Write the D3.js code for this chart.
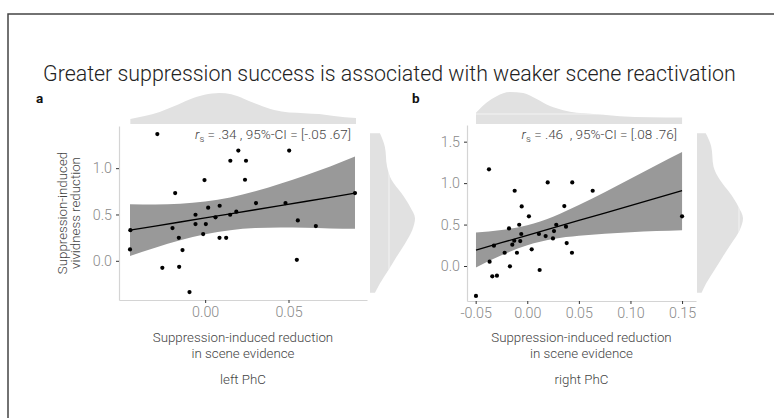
<!DOCTYPE html>
<html lang="en">
<head>
<meta charset="utf-8">
<title>Suppression success and scene reactivation</title>
<script src="https://cdnjs.cloudflare.com/ajax/libs/d3/7.8.5/d3.min.js"></script>
<style>
  body { margin: 0; background: #fff; }
  svg text { font-family: Roboto, "Noto Sans", sans-serif; }
</style>
</head>
<body>
<div id="chart"></div>
<script>
    // ---- data ----
    // left PhC: x = scene evidence reduction, y = vividness reduction
    var leftX = [-0.0287, 0.0199, 0.0504, 0.0151, 0.0245, -0.0004, 0.0239, -0.018, 0.0305, 0.0482, 0.0899,
        0.0087, 0.0018, -0.0058, 0.015, 0.0187, 0.0062, 0.0556, -0.0196, -0.0058, 0.0004, 0.0664, -0.0449,
        -0.0158, -0.0012, 0.0086, 0.0126, -0.0451, -0.0136, -0.0257, -0.0156, 0.055, -0.0094];
    var leftY = [1.368, 1.19, 1.19, 1.08, 1.08, 0.871, 0.875, 0.731, 0.623, 0.623, 0.731,
        0.594, 0.573, 0.497, 0.497, 0.53, 0.469, 0.436, 0.353, 0.397, 0.397, 0.375, 0.331,
        0.248, 0.288, 0.248, 0.248, 0.123, 0.116, -0.076, -0.065, 0.011, -0.338];

    // right PhC
    var rightX = [-0.0371, -0.0122, 0.0198, 0.0436, 0.0634, -0.0054, 0.0016, 0.0359, 0.150, -0.0177, -0.0078,
        0.0281, 0.0375, -0.0058, 0.0113, 0.0178, 0.0259, 0.0249, -0.0323, -0.0145, -0.0126, -0.0068,
        -0.0219, -0.01, 0.0043, 0.0382, 0.0433, -0.0365, -0.0168, -0.0339, -0.0294, 0.012, -0.0497];
    var rightY = [1.166, 0.908, 1.008, 1.008, 0.908, 0.719, 0.599, 0.723, 0.599, 0.454, 0.498,
        0.498, 0.474, 0.386, 0.386, 0.361, 0.422, 0.333, 0.245, 0.257, 0.305, 0.301,
        0.160, 0.160, 0.201, 0.277, 0.160, 0.052, -0.004, -0.124, -0.117, -0.048, -0.361];

    // linear fit + 95% band, sampled along x
    var leftFitX = [-0.0451, -0.03, -0.015, 0, 0.015, 0.03, 0.045, 0.06, 0.075, 0.0899];
    var leftFit = [0.331, 0.375, 0.419, 0.463, 0.507, 0.551, 0.596, 0.640, 0.684, 0.731];
    var leftLo = [0.052, 0.142, 0.223, 0.288, 0.331, 0.353, 0.360, 0.358, 0.350, 0.345];
    var leftHi = [0.610, 0.608, 0.615, 0.639, 0.684, 0.750, 0.831, 0.922, 1.018, 1.125];

    var rightFitX = [-0.0497, -0.025, 0, 0.025, 0.05, 0.075, 0.1, 0.125, 0.150];
    var rightFit = [0.193, 0.281, 0.371, 0.460, 0.550, 0.639, 0.729, 0.818, 0.908];
    var rightLo = [-0.017, 0.129, 0.250, 0.325, 0.364, 0.388, 0.406, 0.421, 0.432];
    var rightHi = [0.403, 0.434, 0.492, 0.595, 0.736, 0.890, 1.052, 1.215, 1.375];

    // marginal densities (relative height)
    var leftTopX = [-0.0449, -0.0363, -0.0273, -0.0184, -0.0094, -0.0004, 0.0086, 0.0157, 0.0235, 0.0325,
        0.0414, 0.0504, 0.0594, 0.0684, 0.0773, 0.0905];
    var leftTopD = [0.16, 0.26, 0.39, 0.58, 0.79, 0.94, 1.0, 0.96, 0.81, 0.61, 0.45, 0.37, 0.35, 0.32, 0.26, 0.19];
    var rightTopX = [-0.0497, -0.0393, -0.0297, -0.0168, -0.0039, 0.0091, 0.022, 0.0349, 0.0479, 0.0608,
        0.0736, 0.0898, 0.119, 0.150];
    var rightTopD = [0.35, 0.67, 0.87, 1.0, 0.97, 0.78, 0.56, 0.43, 0.35, 0.32, 0.29, 0.24, 0.21, 0.2];

    var leftSideY = [1.376, 1.231, 1.015, 0.871, 0.728, 0.583, 0.458, 0.332, 0.188, 0.043, -0.1, -0.244, -0.346];
    var leftSideD = [0.22, 0.33, 0.38, 0.48, 0.70, 0.89, 1.0, 0.94, 0.78, 0.59, 0.41, 0.22, 0.11];
    var rightSideY = [1.601, 1.439, 1.198, 1.037, 0.877, 0.715, 0.575, 0.434, 0.274, 0.112, -0.048, -0.209, -0.322];
    var rightSideD = [0.19, 0.31, 0.36, 0.50, 0.72, 0.90, 1.0, 0.93, 0.75, 0.56, 0.38, 0.2, 0.1];

    var leftXTicks = [0, 0.05];
    var leftYTicks = [0, 0.5, 1.0];
    var rightXTicks = [-0.05, 0, 0.05, 0.10, 0.15];
    var rightYTicks = [0, 0.5, 1.0, 1.5];

    var titleText = "Greater suppression success is associated with weaker scene reactivation";

    // ---- layout ----
    var width = 774, height = 418;

    var panels = [
        {
            label: "a", labelX: 36, footer: "left PhC",
            xs: leftX, ys: leftY,
            fitX: leftFitX, fit: leftFit, lo: leftLo, hi: leftHi,
            topX: leftTopX, topD: leftTopD, sideY: leftSideY, sideD: leftSideD,
            xTicks: leftXTicks, yTicks: leftYTicks,
            xDomain: [-0.0517, 0.0971], xRange: [119, 367],
            yDomain: [-0.423, 1.455], yRange: [300, 126],
            stat: ".34 , 95%-CI = [-.05 .67]", statX: 351,
            topBase: 124, topH: 31, sideBase: 370, sideW: 45,
            topSeam: null, sideSeam: 19,
            yTitle: true
        },
        {
            label: "b", labelX: 412, footer: "right PhC",
            xs: rightX, ys: rightY,
            fitX: rightFitX, fit: rightFit, lo: rightLo, hi: rightHi,
            topX: rightTopX, topD: rightTopD, sideY: rightSideY, sideD: rightSideD,
            xTicks: rightXTicks, yTicks: rightYTicks,
            xDomain: [-0.0584, 0.1635], xRange: [467, 696],
            yDomain: [-0.422, 1.701], yRange: [301, 125],
            stat: ".46  , 95%-CI = [.08 .76]", statX: 677,
            topBase: 124, topH: 32, sideBase: 697, sideW: 46,
            topSeam: 10, sideSeam: 42,
            yTitle: false
        }
    ];

    var svg = d3.select("#chart").append("svg")
        .attr("width", width)
        .attr("height", height);

    var defs = svg.append("defs");

    // outer frame
    svg.append("rect")
        .attr("x", 8).attr("y", 14)
        .attr("width", width + 20).attr("height", height + 20)
        .attr("fill", "none")
        .attr("stroke", "#444")
        .attr("stroke-width", 1.5);

    svg.append("text")
        .attr("x", 43).attr("y", 81)
        .attr("font-size", 21.4)
        .attr("font-weight", 300)
        .attr("fill", "#222")
        .text(titleText);

    panels.forEach(function (p, i) {
        var x = d3.scaleLinear().domain(p.xDomain).range(p.xRange);
        var y = d3.scaleLinear().domain(p.yDomain).range(p.yRange);
        var g = svg.append("g");

        g.append("text")
            .attr("x", p.labelX).attr("y", 103)
            .attr("font-size", 13.5)
            .attr("font-weight", 700)
            .attr("fill", "#111")
            .text(p.label);

        // top marginal density
        var topData = p.topX.map(function (v, k) { return [v, p.topD[k]]; });
        var topArea = d3.area()
            .x(function (d) { return x(d[0]); })
            .y0(p.topBase)
            .y1(function (d) { return p.topBase - d[1] * p.topH; })
            .curve(d3.curveMonotoneX);
        g.append("path").datum(topData)
            .attr("d", topArea)
            .attr("fill", "#e1e1e1");

        // side marginal density
        var sideData = p.sideY.map(function (v, k) { return [v, p.sideD[k]]; });
        var sideArea = d3.area()
            .y(function (d) { return y(d[0]); })
            .x0(p.sideBase)
            .x1(function (d) { return p.sideBase + d[1] * p.sideW; })
            .curve(d3.curveMonotoneY);
        g.append("path").datum(sideData)
            .attr("d", sideArea)
            .attr("fill", "#e1e1e1");

        // faint seams inside the densities
        defs.append("clipPath").attr("id", "sideclip" + i)
            .append("path").datum(sideData).attr("d", sideArea);
        if (p.sideSeam) {
            g.append("line")
                .attr("x1", p.sideBase + p.sideSeam).attr("x2", p.sideBase + p.sideSeam)
                .attr("y1", 120).attr("y2", 300)
                .attr("stroke", "#f3f3f3").attr("stroke-width", 1)
                .attr("clip-path", "url(#sideclip" + i + ")");
        }
        defs.append("clipPath").attr("id", "topclip" + i)
            .append("path").datum(topData).attr("d", topArea);
        if (p.topSeam) {
            g.append("line")
                .attr("x1", p.xRange[0]).attr("x2", p.xRange[1])
                .attr("y1", p.topBase - p.topSeam).attr("y2", p.topBase - p.topSeam)
                .attr("stroke", "#f3f3f3").attr("stroke-width", 1)
                .attr("clip-path", "url(#topclip" + i + ")");
        }

        // axes
        var xAxis = d3.axisBottom(x).tickValues(p.xTicks).tickSize(3).tickSizeOuter(0).tickPadding(4)
            .tickFormat(function (d) { return d.toFixed(2); });
        var yAxis = d3.axisLeft(y).tickValues(p.yTicks).tickSize(3).tickSizeOuter(0).tickPadding(4)
            .tickFormat(function (d) { return d.toFixed(1); });

        var gx = g.append("g").attr("transform", "translate(0," + p.yRange[0] + ")").call(xAxis);
        var gy = g.append("g").attr("transform", "translate(" + p.xRange[0] + ",0)").call(yAxis);
        [gx, gy].forEach(function (ax) {
            ax.select(".domain").attr("stroke", "#d4d4d4").attr("stroke-width", 1.2);
            ax.selectAll(".tick line").attr("stroke", "#333");
            ax.selectAll(".tick text")
                .attr("font-size", 14.3)
                .attr("font-weight", 300)
                .attr("fill", "#8a8a8a")
                .style("font-family", "Roboto, 'Noto Sans', sans-serif");
        });

        // confidence band and fit
        var band = p.fitX.map(function (v, k) { return [v, p.lo[k], p.hi[k], p.fit[k]]; });
        g.append("path").datum(band)
            .attr("d", d3.area()
                .x(function (d) { return x(d[0]); })
                .y0(function (d) { return y(d[1]); })
                .y1(function (d) { return y(d[2]); })
                .curve(d3.curveMonotoneX))
            .attr("fill", "#999");
        g.append("path").datum(band)
            .attr("d", d3.line()
                .x(function (d) { return x(d[0]); })
                .y(function (d) { return y(d[3]); }))
            .attr("fill", "none")
            .attr("stroke", "#000")
            .attr("stroke-width", 1.3);

        // points
        g.selectAll("circle.pt").data(p.xs.map(function (v, k) { return [v, p.ys[k]]; }))
            .enter().append("circle")
            .attr("class", "pt")
            .attr("cx", function (d) { return x(d[0]); })
            .attr("cy", function (d) { return y(d[1]); })
            .attr("r", 2.1)
            .attr("fill", "#000");

        // correlation annotation
        var stat = g.append("text")
            .attr("x", p.statX).attr("y", 139)
            .attr("text-anchor", "end")
            .attr("font-size", 13.5)
            .attr("font-weight", 300)
            .attr("fill", "#444");
        stat.append("tspan").attr("font-style", "italic").text("r");
        stat.append("tspan").attr("font-size", 9.5).attr("dy", 3).text("s");
        stat.append("tspan").attr("dy", -3).attr("xml:space", "preserve").text(" = " + p.stat);

        // axis titles
        var cx = (p.xRange[0] + p.xRange[1]) / 2;
        g.append("text")
            .attr("x", cx).attr("y", 342)
            .attr("text-anchor", "middle")
            .attr("font-size", 13.3).attr("font-weight", 300).attr("fill", "#444")
            .text("Suppression-induced reduction");
        g.append("text")
            .attr("x", cx).attr("y", 357.5)
            .attr("text-anchor", "middle")
            .attr("font-size", 13.3).attr("font-weight", 300).attr("fill", "#444")
            .text("in scene evidence");
        g.append("text")
            .attr("x", cx).attr("y", 384)
            .attr("text-anchor", "middle")
            .attr("font-size", 13.3).attr("font-weight", 300).attr("fill", "#444")
            .text(p.footer);

        if (p.yTitle) {
            var cy = (p.yRange[0] + p.yRange[1]) / 2;
            var yt = g.append("text")
                .attr("transform", "translate(67," + cy + ") rotate(-90)")
                .attr("text-anchor", "middle")
                .attr("font-size", 13.3).attr("font-weight", 300).attr("fill", "#444");
            yt.append("tspan").attr("x", 0).attr("y", 0).text("Suppression-induced");
            yt.append("tspan").attr("x", 0).attr("y", 13).text("vividness reduction");
        }
    });
</script>
</body>
</html>
